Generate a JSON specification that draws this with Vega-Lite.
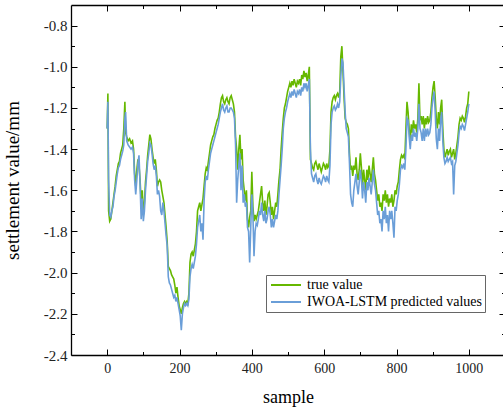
{
  "$schema": "https://vega.github.io/schema/vega-lite/v6.json",
  "width": 434,
  "height": 350,
  "autosize": {"type": "none"},
  "padding": {"left": 71, "top": 5, "right": 0, "bottom": 57},
  "background": "white",
  "config": {
    "view": {"stroke": null},
    "font": "Times New Roman, Liberation Serif, serif",
    "axis": {
      "grid": false,
      "domainColor": "black",
      "domainWidth": 1.3,
      "tickColor": "black",
      "tickWidth": 1,
      "labelFont": "Times New Roman, Liberation Serif, serif",
      "labelFontSize": 14,
      "labelColor": "#222",
      "titleFont": "Times New Roman, Liberation Serif, serif",
      "titleFontWeight": "normal",
      "titleColor": "black"
    }
  },
  "data": {"values": [
{"s":0,"t":-1.30,"p":-1.30},{"s":2,"t":-1.13,"p":-1.17},{"s":4,"t":-1.70,"p":-1.55},{"s":7,"t":-1.75,"p":-1.72},{"s":10,"t":-1.74,"p":-1.73},{"s":13,"t":-1.70,"p":-1.70},{"s":16,"t":-1.66,"p":-1.68},{"s":19,"t":-1.62,"p":-1.63},{"s":22,"t":-1.58,"p":-1.60},{"s":25,"t":-1.53,"p":-1.56},{"s":28,"t":-1.50,"p":-1.52},{"s":31,"t":-1.47,"p":-1.49},{"s":34,"t":-1.46,"p":-1.48},{"s":37,"t":-1.42,"p":-1.45},{"s":40,"t":-1.40,"p":-1.43},{"s":43,"t":-1.38,"p":-1.41},{"s":46,"t":-1.30,"p":-1.38},{"s":49,"t":-1.17,"p":-1.25},{"s":51,"t":-1.32,"p":-1.22},{"s":54,"t":-1.34,"p":-1.36},{"s":58,"t":-1.36,"p":-1.38},{"s":62,"t":-1.35,"p":-1.39},{"s":66,"t":-1.37,"p":-1.40},{"s":70,"t":-1.36,"p":-1.39},{"s":73,"t":-1.40,"p":-1.42},{"s":76,"t":-1.52,"p":-1.55},{"s":79,"t":-1.58,"p":-1.62},{"s":82,"t":-1.50,"p":-1.55},{"s":85,"t":-1.45,"p":-1.47},{"s":88,"t":-1.48,"p":-1.43},{"s":91,"t":-1.55,"p":-1.57},{"s":94,"t":-1.66,"p":-1.74},{"s":97,"t":-1.60,"p":-1.64},{"s":100,"t":-1.72,"p":-1.75},{"s":103,"t":-1.66,"p":-1.70},{"s":106,"t":-1.56,"p":-1.60},{"s":109,"t":-1.50,"p":-1.53},{"s":112,"t":-1.43,"p":-1.46},{"s":115,"t":-1.38,"p":-1.42},{"s":118,"t":-1.33,"p":-1.37},{"s":121,"t":-1.35,"p":-1.38},{"s":124,"t":-1.40,"p":-1.42},{"s":127,"t":-1.44,"p":-1.47},{"s":130,"t":-1.47,"p":-1.50},{"s":133,"t":-1.45,"p":-1.48},{"s":136,"t":-1.50,"p":-1.53},{"s":139,"t":-1.58,"p":-1.62},{"s":142,"t":-1.56,"p":-1.60},{"s":145,"t":-1.55,"p":-1.63},{"s":148,"t":-1.56,"p":-1.70},{"s":151,"t":-1.60,"p":-1.72},{"s":154,"t":-1.63,"p":-1.66},{"s":157,"t":-1.66,"p":-1.70},{"s":160,"t":-1.72,"p":-1.76},{"s":163,"t":-1.78,"p":-1.82},{"s":166,"t":-1.85,"p":-1.87},{"s":169,"t":-1.97,"p":-2.02},{"s":172,"t":-1.98,"p":-2.05},{"s":175,"t":-1.99,"p":-2.06},{"s":178,"t":-2.01,"p":-2.08},{"s":181,"t":-2.02,"p":-2.10},{"s":184,"t":-2.03,"p":-2.12},{"s":187,"t":-2.06,"p":-2.11},{"s":190,"t":-2.10,"p":-2.14},{"s":193,"t":-2.07,"p":-2.12},{"s":196,"t":-2.12,"p":-2.15},{"s":199,"t":-2.16,"p":-2.18},{"s":202,"t":-2.18,"p":-2.21},{"s":205,"t":-2.20,"p":-2.28},{"s":208,"t":-2.17,"p":-2.20},{"s":211,"t":-2.15,"p":-2.17},{"s":214,"t":-2.14,"p":-2.15},{"s":217,"t":-2.15,"p":-2.16},{"s":220,"t":-2.14,"p":-2.15},{"s":223,"t":-2.15,"p":-2.16},{"s":226,"t":-2.10,"p":-2.13},{"s":229,"t":-1.95,"p":-2.02},{"s":232,"t":-1.91,"p":-1.98},{"s":235,"t":-1.90,"p":-1.96},{"s":238,"t":-1.92,"p":-1.98},{"s":241,"t":-1.89,"p":-1.95},{"s":244,"t":-1.86,"p":-1.92},{"s":247,"t":-1.80,"p":-1.86},{"s":250,"t":-1.70,"p":-1.78},{"s":253,"t":-1.68,"p":-1.75},{"s":256,"t":-1.66,"p":-1.72},{"s":259,"t":-1.70,"p":-1.80},{"s":262,"t":-1.67,"p":-1.76},{"s":265,"t":-1.64,"p":-1.84},{"s":268,"t":-1.58,"p":-1.65},{"s":271,"t":-1.52,"p":-1.56},{"s":274,"t":-1.49,"p":-1.53},{"s":277,"t":-1.50,"p":-1.55},{"s":280,"t":-1.46,"p":-1.50},{"s":283,"t":-1.42,"p":-1.46},{"s":286,"t":-1.38,"p":-1.42},{"s":289,"t":-1.36,"p":-1.40},{"s":292,"t":-1.34,"p":-1.38},{"s":295,"t":-1.33,"p":-1.36},{"s":298,"t":-1.30,"p":-1.34},{"s":301,"t":-1.28,"p":-1.32},{"s":304,"t":-1.26,"p":-1.30},{"s":307,"t":-1.25,"p":-1.28},{"s":310,"t":-1.22,"p":-1.25},{"s":313,"t":-1.18,"p":-1.22},{"s":316,"t":-1.15,"p":-1.20},{"s":319,"t":-1.14,"p":-1.18},{"s":322,"t":-1.17,"p":-1.21},{"s":325,"t":-1.18,"p":-1.22},{"s":328,"t":-1.16,"p":-1.20},{"s":331,"t":-1.15,"p":-1.19},{"s":334,"t":-1.17,"p":-1.22},{"s":337,"t":-1.18,"p":-1.22},{"s":340,"t":-1.15,"p":-1.20},{"s":343,"t":-1.14,"p":-1.20},{"s":346,"t":-1.16,"p":-1.21},{"s":349,"t":-1.18,"p":-1.22},{"s":352,"t":-1.22,"p":-1.25},{"s":355,"t":-1.34,"p":-1.38},{"s":358,"t":-1.40,"p":-1.66},{"s":361,"t":-1.50,"p":-1.55},{"s":364,"t":-1.40,"p":-1.48},{"s":367,"t":-1.33,"p":-1.42},{"s":370,"t":-1.45,"p":-1.60},{"s":373,"t":-1.40,"p":-1.48},{"s":376,"t":-1.55,"p":-1.66},{"s":379,"t":-1.60,"p":-1.62},{"s":382,"t":-1.65,"p":-1.68},{"s":385,"t":-1.60,"p":-1.66},{"s":388,"t":-1.74,"p":-1.78},{"s":391,"t":-1.78,"p":-1.80},{"s":394,"t":-1.73,"p":-1.95},{"s":397,"t":-1.70,"p":-1.78},{"s":400,"t":-1.51,"p":-1.62},{"s":403,"t":-1.68,"p":-1.72},{"s":406,"t":-1.75,"p":-1.92},{"s":409,"t":-1.72,"p":-1.80},{"s":412,"t":-1.74,"p":-1.76},{"s":415,"t":-1.72,"p":-1.77},{"s":418,"t":-1.70,"p":-1.74},{"s":421,"t":-1.66,"p":-1.70},{"s":424,"t":-1.62,"p":-1.72},{"s":427,"t":-1.58,"p":-1.66},{"s":430,"t":-1.66,"p":-1.72},{"s":433,"t":-1.70,"p":-1.75},{"s":436,"t":-1.65,"p":-1.70},{"s":439,"t":-1.72,"p":-1.76},{"s":442,"t":-1.68,"p":-1.74},{"s":445,"t":-1.62,"p":-1.70},{"s":448,"t":-1.61,"p":-1.68},{"s":451,"t":-1.66,"p":-1.72},{"s":454,"t":-1.72,"p":-1.78},{"s":457,"t":-1.68,"p":-1.74},{"s":460,"t":-1.74,"p":-1.78},{"s":463,"t":-1.70,"p":-1.75},{"s":466,"t":-1.66,"p":-1.72},{"s":469,"t":-1.68,"p":-1.74},{"s":472,"t":-1.62,"p":-1.70},{"s":475,"t":-1.55,"p":-1.62},{"s":478,"t":-1.50,"p":-1.55},{"s":481,"t":-1.40,"p":-1.48},{"s":484,"t":-1.32,"p":-1.40},{"s":487,"t":-1.25,"p":-1.30},{"s":490,"t":-1.20,"p":-1.25},{"s":493,"t":-1.18,"p":-1.22},{"s":496,"t":-1.15,"p":-1.20},{"s":499,"t":-1.12,"p":-1.17},{"s":502,"t":-1.10,"p":-1.15},{"s":505,"t":-1.08,"p":-1.13},{"s":508,"t":-1.10,"p":-1.15},{"s":511,"t":-1.07,"p":-1.12},{"s":514,"t":-1.09,"p":-1.14},{"s":517,"t":-1.06,"p":-1.11},{"s":520,"t":-1.08,"p":-1.13},{"s":523,"t":-1.10,"p":-1.15},{"s":526,"t":-1.07,"p":-1.12},{"s":529,"t":-1.08,"p":-1.13},{"s":532,"t":-1.06,"p":-1.11},{"s":535,"t":-1.09,"p":-1.14},{"s":538,"t":-1.04,"p":-1.10},{"s":541,"t":-1.06,"p":-1.12},{"s":544,"t":-1.02,"p":-1.08},{"s":547,"t":-1.05,"p":-1.10},{"s":550,"t":-1.03,"p":-1.08},{"s":553,"t":-1.07,"p":-1.12},{"s":556,"t":-1.04,"p":-1.09},{"s":559,"t":-1.00,"p":-1.06},{"s":562,"t":-1.45,"p":-1.40},{"s":565,"t":-1.47,"p":-1.52},{"s":568,"t":-1.49,"p":-1.54},{"s":571,"t":-1.50,"p":-1.56},{"s":574,"t":-1.47,"p":-1.53},{"s":577,"t":-1.46,"p":-1.52},{"s":580,"t":-1.48,"p":-1.55},{"s":583,"t":-1.50,"p":-1.57},{"s":586,"t":-1.47,"p":-1.54},{"s":589,"t":-1.49,"p":-1.56},{"s":592,"t":-1.51,"p":-1.57},{"s":595,"t":-1.49,"p":-1.55},{"s":598,"t":-1.47,"p":-1.53},{"s":601,"t":-1.48,"p":-1.54},{"s":604,"t":-1.50,"p":-1.56},{"s":607,"t":-1.47,"p":-1.53},{"s":610,"t":-1.49,"p":-1.55},{"s":613,"t":-1.48,"p":-1.56},{"s":616,"t":-1.40,"p":-1.48},{"s":619,"t":-1.22,"p":-1.28},{"s":622,"t":-1.17,"p":-1.22},{"s":625,"t":-1.15,"p":-1.20},{"s":628,"t":-1.14,"p":-1.19},{"s":631,"t":-1.16,"p":-1.21},{"s":634,"t":-1.14,"p":-1.20},{"s":637,"t":-1.13,"p":-1.18},{"s":640,"t":-1.15,"p":-1.20},{"s":643,"t":-1.12,"p":-1.17},{"s":646,"t":-0.95,"p":-1.05},{"s":649,"t":-0.90,"p":-0.96},{"s":652,"t":-1.02,"p":-0.98},{"s":655,"t":-1.15,"p":-1.10},{"s":658,"t":-1.25,"p":-1.22},{"s":661,"t":-1.27,"p":-1.30},{"s":664,"t":-1.28,"p":-1.32},{"s":667,"t":-1.30,"p":-1.34},{"s":670,"t":-1.42,"p":-1.47},{"s":673,"t":-1.50,"p":-1.62},{"s":676,"t":-1.48,"p":-1.66},{"s":679,"t":-1.53,"p":-1.68},{"s":682,"t":-1.48,"p":-1.60},{"s":685,"t":-1.50,"p":-1.56},{"s":688,"t":-1.44,"p":-1.52},{"s":691,"t":-1.52,"p":-1.58},{"s":694,"t":-1.55,"p":-1.62},{"s":697,"t":-1.50,"p":-1.56},{"s":700,"t":-1.42,"p":-1.50},{"s":703,"t":-1.49,"p":-1.55},{"s":706,"t":-1.58,"p":-1.64},{"s":709,"t":-1.50,"p":-1.56},{"s":712,"t":-1.55,"p":-1.60},{"s":715,"t":-1.60,"p":-1.66},{"s":718,"t":-1.50,"p":-1.56},{"s":721,"t":-1.55,"p":-1.60},{"s":724,"t":-1.48,"p":-1.54},{"s":727,"t":-1.52,"p":-1.58},{"s":730,"t":-1.56,"p":-1.62},{"s":733,"t":-1.50,"p":-1.56},{"s":736,"t":-1.44,"p":-1.50},{"s":739,"t":-1.52,"p":-1.57},{"s":742,"t":-1.55,"p":-1.60},{"s":745,"t":-1.60,"p":-1.66},{"s":748,"t":-1.65,"p":-1.72},{"s":751,"t":-1.62,"p":-1.70},{"s":754,"t":-1.68,"p":-1.76},{"s":757,"t":-1.66,"p":-1.74},{"s":760,"t":-1.70,"p":-1.80},{"s":763,"t":-1.62,"p":-1.70},{"s":766,"t":-1.65,"p":-1.74},{"s":769,"t":-1.60,"p":-1.68},{"s":772,"t":-1.66,"p":-1.76},{"s":775,"t":-1.62,"p":-1.72},{"s":778,"t":-1.68,"p":-1.80},{"s":781,"t":-1.64,"p":-1.70},{"s":784,"t":-1.66,"p":-1.74},{"s":787,"t":-1.62,"p":-1.70},{"s":790,"t":-1.68,"p":-1.76},{"s":793,"t":-1.65,"p":-1.83},{"s":796,"t":-1.60,"p":-1.68},{"s":799,"t":-1.62,"p":-1.70},{"s":802,"t":-1.58,"p":-1.65},{"s":805,"t":-1.56,"p":-1.62},{"s":808,"t":-1.50,"p":-1.57},{"s":811,"t":-1.45,"p":-1.50},{"s":814,"t":-1.43,"p":-1.48},{"s":817,"t":-1.44,"p":-1.49},{"s":820,"t":-1.43,"p":-1.47},{"s":823,"t":-1.45,"p":-1.50},{"s":826,"t":-1.30,"p":-1.40},{"s":829,"t":-1.17,"p":-1.25},{"s":832,"t":-1.22,"p":-1.26},{"s":835,"t":-1.30,"p":-1.34},{"s":838,"t":-1.36,"p":-1.40},{"s":841,"t":-1.28,"p":-1.33},{"s":844,"t":-1.32,"p":-1.36},{"s":847,"t":-1.26,"p":-1.30},{"s":850,"t":-1.30,"p":-1.34},{"s":853,"t":-1.28,"p":-1.32},{"s":856,"t":-1.32,"p":-1.36},{"s":859,"t":-1.25,"p":-1.30},{"s":862,"t":-1.08,"p":-1.18},{"s":865,"t":-1.26,"p":-1.30},{"s":868,"t":-1.24,"p":-1.32},{"s":871,"t":-1.28,"p":-1.36},{"s":874,"t":-1.24,"p":-1.30},{"s":877,"t":-1.30,"p":-1.36},{"s":880,"t":-1.25,"p":-1.30},{"s":883,"t":-1.28,"p":-1.34},{"s":886,"t":-1.24,"p":-1.30},{"s":889,"t":-1.27,"p":-1.33},{"s":892,"t":-1.26,"p":-1.32},{"s":895,"t":-1.22,"p":-1.28},{"s":898,"t":-1.15,"p":-1.20},{"s":901,"t":-1.10,"p":-1.15},{"s":904,"t":-1.07,"p":-1.12},{"s":907,"t":-1.15,"p":-1.22},{"s":910,"t":-1.25,"p":-1.35},{"s":913,"t":-1.30,"p":-1.40},{"s":916,"t":-1.22,"p":-1.30},{"s":919,"t":-1.28,"p":-1.36},{"s":922,"t":-1.20,"p":-1.26},{"s":925,"t":-1.16,"p":-1.22},{"s":928,"t":-1.30,"p":-1.36},{"s":931,"t":-1.40,"p":-1.44},{"s":934,"t":-1.44,"p":-1.47},{"s":937,"t":-1.42,"p":-1.46},{"s":940,"t":-1.40,"p":-1.44},{"s":943,"t":-1.43,"p":-1.46},{"s":946,"t":-1.41,"p":-1.45},{"s":949,"t":-1.40,"p":-1.44},{"s":952,"t":-1.44,"p":-1.47},{"s":955,"t":-1.42,"p":-1.46},{"s":958,"t":-1.40,"p":-1.62},{"s":961,"t":-1.45,"p":-1.48},{"s":964,"t":-1.42,"p":-1.46},{"s":967,"t":-1.38,"p":-1.42},{"s":970,"t":-1.34,"p":-1.38},{"s":973,"t":-1.28,"p":-1.32},{"s":976,"t":-1.25,"p":-1.29},{"s":979,"t":-1.26,"p":-1.30},{"s":982,"t":-1.24,"p":-1.28},{"s":985,"t":-1.25,"p":-1.29},{"s":988,"t":-1.27,"p":-1.31},{"s":991,"t":-1.24,"p":-1.28},{"s":994,"t":-1.20,"p":-1.25},{"s":997,"t":-1.18,"p":-1.22},{"s":1000,"t":-1.12,"p":-1.18}
  ]},
  "resolve": {"axis": {"x": "independent", "y": "independent"}},
  "layer": [
    {
      "mark": {"type": "line", "strokeWidth": 1.6, "clip": true},
      "encoding": {
        "x": {
          "field": "s", "type": "quantitative",
          "scale": {"domain": [-100, 1100], "nice": false, "zero": false},
          "axis": {
            "orient": "bottom",
            "values": [0, 200, 400, 600, 800, 1000],
            "format": "d",
            "tickSize": -6,
            "labelPadding": 12,
            "title": "sample",
            "titleFontSize": 18,
            "titlePadding": 13
          }
        },
        "y": {
          "field": "t", "type": "quantitative",
          "scale": {"domain": [-2.4, -0.7], "nice": false, "zero": false},
          "axis": {
            "orient": "left",
            "values": [-2.4, -2.2, -2.0, -1.8, -1.6, -1.4, -1.2, -1.0, -0.8],
            "labelExpr": "replace(format(datum.value, '.1f'), '−', '-')",
            "labelFontSize": 15,
            "tickSize": -6,
            "labelPadding": 10,
            "title": "settlement value/mm",
            "titleFontSize": 19,
            "titlePadding": 21
          }
        },
        "color": {
          "datum": "true value", "type": "nominal",
          "scale": {"domain": ["true value", "IWOA-LSTM predicted values"], "range": ["#66b800", "#6a9ed8"]},
          "legend": {
            "orient": "none", "legendX": 195, "legendY": 270,
            "title": null,
            "symbolType": "M-1,0H5", "symbolSize": 100, "symbolStrokeWidth": 2,
            "labelFont": "Times New Roman, Liberation Serif, serif", "labelFontSize": 14, "labelColor": "black",
            "labelOffset": 24, "labelLimit": 400,
            "strokeColor": "#666", "fillColor": "white",
            "padding": 3, "rowPadding": 3
          }
        }
      }
    },
    {
      "mark": {"type": "line", "strokeWidth": 1.6, "clip": true},
      "encoding": {
        "x": {
          "field": "s", "type": "quantitative",
          "axis": {"orient": "bottom", "labels": false, "title": null, "domain": false, "values": [100, 300, 500, 700, 900], "tickSize": -3.5}
        },
        "y": {
          "field": "p", "type": "quantitative",
          "axis": {"orient": "left", "labels": false, "title": null, "domain": false, "values": [-2.3, -2.1, -1.9, -1.7, -1.5, -1.3, -1.1, -0.9], "tickSize": -3.5}
        },
        "color": {"datum": "IWOA-LSTM predicted values", "type": "nominal"}
      }
    },
    {
      "mark": {"type": "line", "opacity": 0},
      "encoding": {
        "x": {
          "field": "s", "type": "quantitative",
          "axis": {"orient": "top", "labels": false, "title": null, "values": [0, 200, 400, 600, 800, 1000], "tickSize": -6}
        },
        "y": {
          "field": "t", "type": "quantitative",
          "axis": {"orient": "right", "labels": false, "title": null, "values": [-2.4, -2.2, -2.0, -1.8, -1.6, -1.4, -1.2, -1.0, -0.8], "tickSize": -6}
        }
      }
    },
    {
      "mark": {"type": "line", "opacity": 0},
      "encoding": {
        "x": {
          "field": "s", "type": "quantitative",
          "axis": {"orient": "top", "labels": false, "title": null, "domain": false, "values": [100, 300, 500, 700, 900], "tickSize": -3.5}
        },
        "y": {
          "field": "t", "type": "quantitative",
          "axis": {"orient": "right", "labels": false, "title": null, "domain": false, "values": [-2.3, -2.1, -1.9, -1.7, -1.5, -1.3, -1.1, -0.9], "tickSize": -3.5}
        }
      }
    }
  ]
}
